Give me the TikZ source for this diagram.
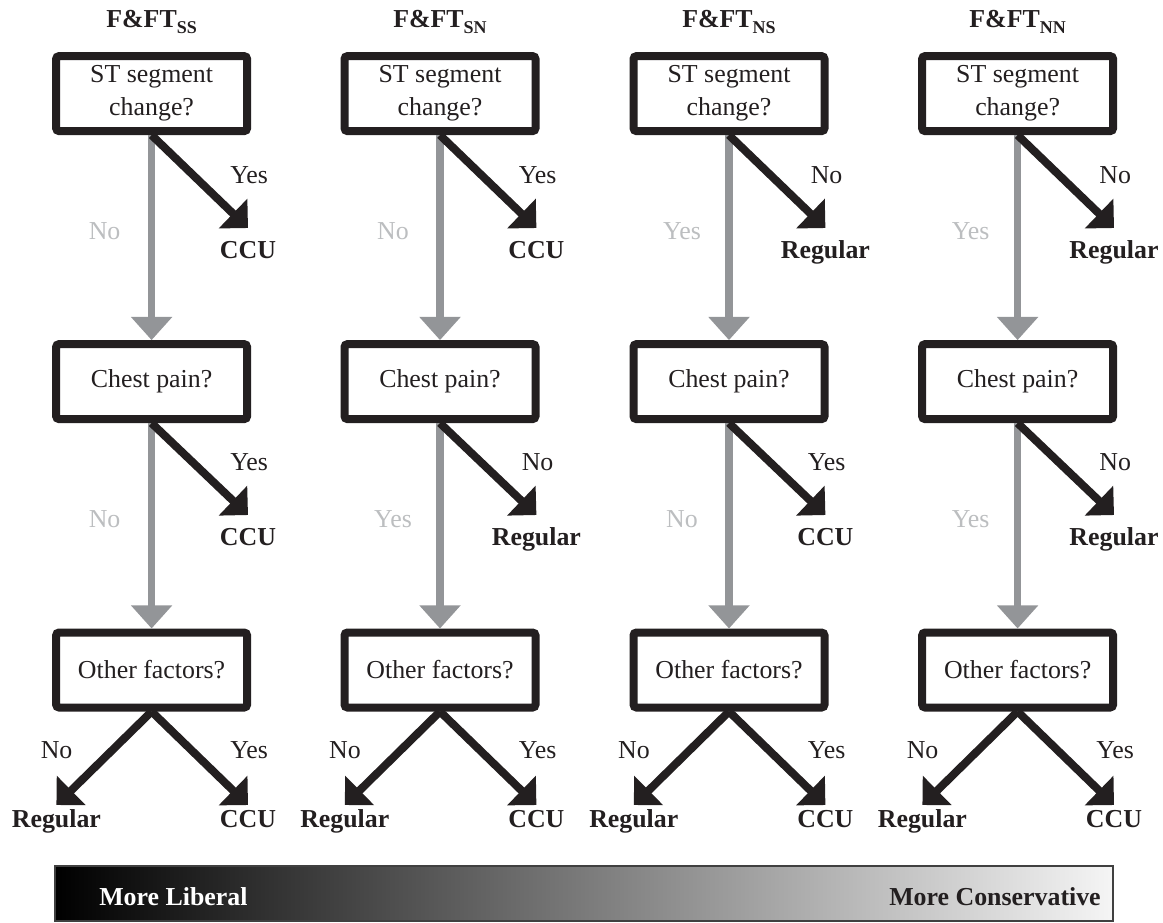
\documentclass[tikz,border=0pt]{standalone}
\usepackage{fontspec}
\setmainfont{Liberation Serif}
\usetikzlibrary{arrows.meta}
\definecolor{ink}{RGB}{35,31,32}
\definecolor{trunkgray}{RGB}{147,149,152}
\definecolor{notegray}{RGB}{188,190,192}
\newcommand{\treefont}{\fontsize{18.4}{23.4}\selectfont}
\newcommand{\subfont}{\fontsize{12.8}{14}\selectfont}
\tikzset{
	question/.style={draw=ink, line width=0.2cm, rounded corners=0.075cm, fill=white, minimum width=4.775cm, minimum height=1.875cm, align=center, inner sep=2pt, text=ink, font=\treefont},
	title/.style={anchor=base, inner sep=0pt, text=ink, font=\treefont\bfseries},
	pick/.style={anchor=base, inner sep=0pt, text=ink, font=\treefont},
	skip/.style={anchor=base, inner sep=0pt, text=notegray, font=\treefont},
	outcome/.style={anchor=north, inner xsep=0pt, inner ysep=0.32cm, text height=0.43cm, text depth=0pt, text=ink, font=\treefont\bfseries},
	lowoutcome/.style={outcome, inner ysep=0.12cm},
	branch/.style={draw=ink, line width=0.2cm, -{Triangle[width=1cm, length=0.52cm]}},
	trunk/.style={draw=trunkgray, line width=0.19cm, -{Triangle[width=1cm, length=0.58cm]}},
	barnote/.style={inner sep=0pt, font=\treefont\bfseries}
}
\begin{document}
\begin{tikzpicture}
	\useasboundingbox (0, 0) rectangle (29.075, -23.05);
	% Column SS:
	\node[title] (t1) at (3.79, -0.675) {F\&FT\raisebox{-0.25em}{\subfont SS}};
	\node[question] (a1) at (3.79, -2.34) {ST segment\\change?};
	\node[question] (b1) at (3.79, -9.54) {Chest pain?};
	\node[question] (c1) at (3.79, -16.75) {Other factors?};
	\node[outcome] (a1o) at (6.2, -5.7) {CCU};
	\node[outcome] (b1o) at (6.2, -12.875) {CCU};
	\node[lowoutcome] (c1l) at (1.41, -20.125) {Regular};
	\node[lowoutcome] (c1r) at (6.2, -20.125) {CCU};
	\node[pick] (a1y) at (6.23, -4.575) {Yes};
	\node[skip] (a1n) at (2.615, -5.975) {No};
	\node[pick] (b1y) at (6.23, -11.75) {Yes};
	\node[skip] (b1n) at (2.615, -13.175) {No};
	\node[pick] (c1n) at (1.415, -18.95) {No};
	\node[pick] (c1y) at (6.23, -18.95) {Yes};
	\draw[trunk] (a1.south) -- (b1.north);
	\draw[trunk] (b1.south) -- (c1.north);
	\draw[branch] (a1.south) -- (a1o.north);
	\draw[branch] (b1.south) -- (b1o.north);
	\draw[branch] (c1.south) -- (c1l.north);
	\draw[branch] (c1.south) -- (c1r.north);
	% Column SN:
	\node[title] (t2) at (11.0, -0.675) {F\&FT\raisebox{-0.25em}{\subfont SN}};
	\node[question] (a2) at (11.0, -2.34) {ST segment\\change?};
	\node[question] (b2) at (11.0, -9.54) {Chest pain?};
	\node[question] (c2) at (11.0, -16.75) {Other factors?};
	\node[outcome] (a2o) at (13.41, -5.7) {CCU};
	\node[outcome] (b2o) at (13.41, -12.875) {Regular};
	\node[lowoutcome] (c2l) at (8.62, -20.125) {Regular};
	\node[lowoutcome] (c2r) at (13.41, -20.125) {CCU};
	\node[pick] (a2y) at (13.44, -4.575) {Yes};
	\node[skip] (a2n) at (9.825, -5.975) {No};
	\node[pick] (b2y) at (13.44, -11.75) {No};
	\node[skip] (b2n) at (9.825, -13.175) {Yes};
	\node[pick] (c2n) at (8.625, -18.95) {No};
	\node[pick] (c2y) at (13.44, -18.95) {Yes};
	\draw[trunk] (a2.south) -- (b2.north);
	\draw[trunk] (b2.south) -- (c2.north);
	\draw[branch] (a2.south) -- (a2o.north);
	\draw[branch] (b2.south) -- (b2o.north);
	\draw[branch] (c2.south) -- (c2l.north);
	\draw[branch] (c2.south) -- (c2r.north);
	% Column NS:
	\node[title] (t3) at (18.225, -0.675) {F\&FT\raisebox{-0.25em}{\subfont NS}};
	\node[question] (a3) at (18.225, -2.34) {ST segment\\change?};
	\node[question] (b3) at (18.225, -9.54) {Chest pain?};
	\node[question] (c3) at (18.225, -16.75) {Other factors?};
	\node[outcome] (a3o) at (20.635, -5.7) {Regular};
	\node[outcome] (b3o) at (20.635, -12.875) {CCU};
	\node[lowoutcome] (c3l) at (15.845, -20.125) {Regular};
	\node[lowoutcome] (c3r) at (20.635, -20.125) {CCU};
	\node[pick] (a3y) at (20.665, -4.575) {No};
	\node[skip] (a3n) at (17.05, -5.975) {Yes};
	\node[pick] (b3y) at (20.665, -11.75) {Yes};
	\node[skip] (b3n) at (17.05, -13.175) {No};
	\node[pick] (c3n) at (15.85, -18.95) {No};
	\node[pick] (c3y) at (20.665, -18.95) {Yes};
	\draw[trunk] (a3.south) -- (b3.north);
	\draw[trunk] (b3.south) -- (c3.north);
	\draw[branch] (a3.south) -- (a3o.north);
	\draw[branch] (b3.south) -- (b3o.north);
	\draw[branch] (c3.south) -- (c3l.north);
	\draw[branch] (c3.south) -- (c3r.north);
	% Column NN:
	\node[title] (t4) at (25.44, -0.675) {F\&FT\raisebox{-0.25em}{\subfont NN}};
	\node[question] (a4) at (25.44, -2.34) {ST segment\\change?};
	\node[question] (b4) at (25.44, -9.54) {Chest pain?};
	\node[question] (c4) at (25.44, -16.75) {Other factors?};
	\node[outcome] (a4o) at (27.85, -5.7) {Regular};
	\node[outcome] (b4o) at (27.85, -12.875) {Regular};
	\node[lowoutcome] (c4l) at (23.06, -20.125) {Regular};
	\node[lowoutcome] (c4r) at (27.85, -20.125) {CCU};
	\node[pick] (a4y) at (27.88, -4.575) {No};
	\node[skip] (a4n) at (24.265, -5.975) {Yes};
	\node[pick] (b4y) at (27.88, -11.75) {No};
	\node[skip] (b4n) at (24.265, -13.175) {Yes};
	\node[pick] (c4n) at (23.065, -18.95) {No};
	\node[pick] (c4y) at (27.88, -18.95) {Yes};
	\draw[trunk] (a4.south) -- (b4.north);
	\draw[trunk] (b4.south) -- (c4.north);
	\draw[branch] (a4.south) -- (a4o.north);
	\draw[branch] (b4.south) -- (b4o.north);
	\draw[branch] (c4.south) -- (c4l.north);
	\draw[branch] (c4.south) -- (c4r.north);
	% Scale bar:
	\shade[left color=black, right color=black!4, draw=black!75, line width=0.04cm] (1.375, -21.65) rectangle (27.825, -23.025);
	\node[barnote, anchor=base west, text=white] (lib) at (2.475, -22.625) {More Liberal};
	\node[barnote, anchor=base east, text=ink] (con) at (27.525, -22.625) {More Conservative};
\end{tikzpicture}
\end{document}
